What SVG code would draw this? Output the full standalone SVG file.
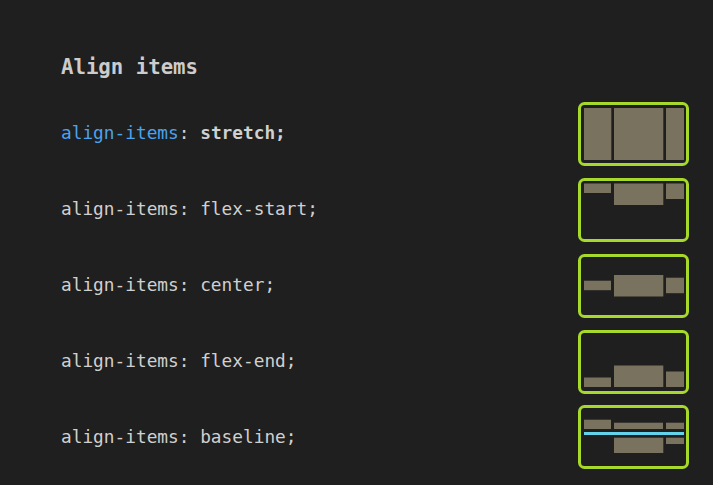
<svg xmlns="http://www.w3.org/2000/svg" width="713" height="485" viewBox="0 0 713 485">
<defs>
<style>
.t{font-family:"DejaVu Sans Mono","Liberation Mono",monospace;font-size:17.8px;fill:#d0d0d0}
.h{font-family:"DejaVu Sans Mono","Liberation Mono",monospace;font-size:20.7px;fill:#cccccc;font-weight:bold}
.k{fill:#4aa3ee}
.b{font-weight:bold}
.box{fill:none;stroke:#a6d92b;stroke-width:3}
.it{fill:#78725f}
.sh{fill:#3a3833}
.cy{fill:#62d3ea}
</style>
</defs>
<rect width="713" height="485" fill="#1f1f1f"/>
<text class="h" x="61" y="74">Align items</text>
<g id="row-stretch">
<text class="t" x="61" y="139"><tspan class="k">align-items</tspan>: <tspan class="b">stretch;</tspan></text>
<rect class="box" x="579.5" y="103.5" width="108" height="61" rx="5"/>
<rect class="sh" x="611" y="108" width="1" height="52"/>
<rect class="sh" x="663" y="108" width="1" height="52"/>
<rect class="it" x="584" y="108" width="27" height="52"/>
<rect class="it" x="614" y="108" width="49" height="52"/>
<rect class="it" x="666" y="108" width="18" height="52"/>
</g>
<g id="row-flex-start">
<text class="t" x="61" y="215">align-items: flex-start;</text>
<rect class="box" x="579.5" y="179.5" width="108" height="61" rx="5"/>
<rect class="it" x="584" y="183.5" width="27" height="9.5"/>
<rect class="sh" x="663" y="183.5" width="1" height="21.5"/>
<rect class="it" x="614" y="183.5" width="49" height="21.5"/>
<rect class="it" x="666" y="183.5" width="18" height="15.5"/>
</g>
<g id="row-center">
<text class="t" x="61" y="291">align-items: center;</text>
<rect class="box" x="579.5" y="255.5" width="108" height="61" rx="5"/>
<rect class="it" x="584" y="280.7" width="27" height="9.5"/>
<rect class="sh" x="663" y="275" width="1" height="21.5"/>
<rect class="it" x="614" y="275" width="49" height="21.5"/>
<rect class="it" x="666" y="277.7" width="18" height="15.5"/>
</g>
<g id="row-flex-end">
<text class="t" x="61" y="367">align-items: flex-end;</text>
<rect class="box" x="579.5" y="331.5" width="108" height="61" rx="5"/>
<rect class="it" x="584" y="377.5" width="27" height="9.5"/>
<rect class="sh" x="663" y="365.5" width="1" height="21.5"/>
<rect class="it" x="614" y="365.5" width="49" height="21.5"/>
<rect class="it" x="666" y="371.5" width="18" height="15.5"/>
</g>
<g id="row-baseline">
<text class="t" x="61" y="443">align-items: baseline;</text>
<rect class="box" x="579.5" y="406.5" width="108" height="61" rx="5"/>
<rect class="it" x="584" y="419.7" width="27" height="9.3"/>
<rect class="it" x="614" y="422.7" width="49" height="6.3"/>
<rect class="it" x="666" y="422.7" width="18" height="6.3"/>
<rect class="cy" x="584" y="432" width="100" height="3"/>
<rect class="sh" x="663" y="437.7" width="1" height="15.3"/>
<rect class="it" x="614" y="437.7" width="49" height="15.3"/>
<rect class="it" x="666" y="437.7" width="18" height="6.3"/>
</g>
</svg>
